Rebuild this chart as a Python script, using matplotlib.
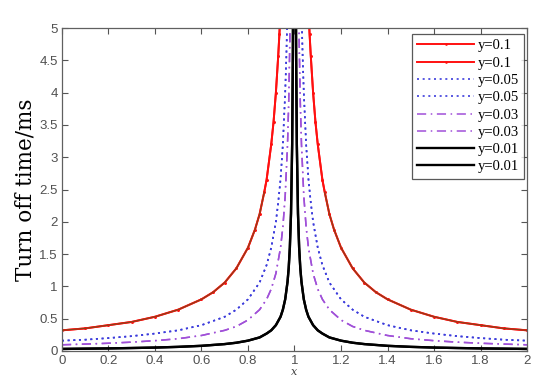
import matplotlib
matplotlib.use("Agg")
import matplotlib.pyplot as plt
import numpy as np

# x positions on the left half (mirrored about x=1 for the right half)
x_red = [0, 0.1, 0.2, 0.3, 0.4, 0.5, 0.6, 0.65, 0.7, 0.75, 0.8, 0.83, 0.85, 0.87, 0.88, 0.9, 0.91, 0.92, 0.93, 0.935, 0.94]
v_red = [0.32, 0.35, 0.40, 0.45, 0.53, 0.64, 0.80, 0.91, 1.06, 1.28, 1.60, 1.88, 2.12, 2.46, 2.65, 3.20, 3.55, 4.00, 4.57, 4.90, 5.30]

x_blue = [0, 0.1, 0.2, 0.3, 0.4, 0.5, 0.6, 0.7, 0.75, 0.8, 0.85, 0.88, 0.9, 0.92, 0.93, 0.94, 0.95, 0.96, 0.965, 0.97]
v_blue = [0.16, 0.175, 0.20, 0.23, 0.27, 0.32, 0.40, 0.53, 0.64, 0.80, 1.06, 1.33, 1.60, 2.00, 2.30, 2.66, 3.20, 4.00, 4.57, 5.30]

x_purp = [0, 0.1, 0.2, 0.3, 0.4, 0.5, 0.6, 0.7, 0.75, 0.8, 0.85, 0.88, 0.9, 0.92, 0.94, 0.95, 0.96, 0.97, 0.975, 0.98, 0.985]
v_purp = [0.096, 0.107, 0.12, 0.137, 0.16, 0.19, 0.24, 0.32, 0.38, 0.48, 0.64, 0.80, 0.96, 1.20, 1.60, 1.92, 2.40, 3.20, 3.84, 4.80, 6.40]

x_blk = [0, 0.1, 0.2, 0.3, 0.4, 0.5, 0.6, 0.7, 0.75, 0.8, 0.85, 0.88, 0.9, 0.92, 0.94, 0.95, 0.96, 0.97, 0.975, 0.98, 0.985, 0.99, 0.993, 0.995]
v_blk = [0.032, 0.036, 0.04, 0.046, 0.053, 0.064, 0.08, 0.107, 0.128, 0.16, 0.21, 0.27, 0.32, 0.40, 0.53, 0.64, 0.80, 1.07, 1.28, 1.60, 2.13, 3.20, 4.57, 6.40]

labels = ["y=0.1", "y=0.1", "y=0.05", "y=0.05", "y=0.03", "y=0.03", "y=0.01", "y=0.01"]
xticks = [0, 0.2, 0.4, 0.6, 0.8, 1, 1.2, 1.4, 1.6, 1.8, 2]
yticks = [0, 0.5, 1, 1.5, 2, 2.5, 3, 3.5, 4, 4.5, 5]


def halves(xs, vs):
    xs = np.asarray(xs, float)
    vs = np.asarray(vs, float)
    return xs, vs, (2 - xs)[::-1], vs[::-1]


fig = plt.figure(figsize=(5.5, 3.89), dpi=100)
ax = fig.add_axes([0.1127, 0.0977, 0.8455, 0.8303])

series = [
    (x_red, v_red, dict(color="#ff1010", lw=1.4, marker=".", ms=1.8, ls="-")),
    (x_blue, v_blue, dict(color="#3c3cdc", lw=1.2, ls=(0, (1.2, 2.2)))),
    (x_purp, v_purp, dict(color="#a050d8", lw=1.1, ls=(0, (6, 3, 1, 3)))),
    (x_blk, v_blk, dict(color="black", lw=1.7, ls="-")),
]

i = 0
for xs, vs, st in series:
    lx, lv, rx, rv = halves(xs, vs)
    for k in range(2):
        ax.plot(lx, lv, label=labels[i], **st)
        ax.plot(rx, rv, **st)
        i += 1

# darker core seen on the red curve's lower part
lx, lv, rx, rv = halves(x_red, v_red)
m = lv <= 2.5
ax.plot(lx[m], lv[m], color="#7a4a1a", lw=0.7, zorder=3)
m2 = rv <= 2.5
ax.plot(rx[m2], rv[m2], color="#7a4a1a", lw=0.7, zorder=3)

ax.set_xlim(0, 2)
ax.set_ylim(0, 5)
ax.set_xticks(xticks)
ax.set_xticklabels(["0", "0.2", "0.4", "0.6", "0.8", "1", "1.2", "1.4", "1.6", "1.8", "2"])
ax.set_yticks(yticks)
ax.set_yticklabels(["0", "0.5", "1", "1.5", "2", "2.5", "3", "3.5", "4", "4.5", "5"])
ax.tick_params(direction="in", top=True, right=True, length=4, width=0.8,
               colors="#555555", labelsize=9.5, pad=3)
for lab in ax.get_xticklabels() + ax.get_yticklabels():
    lab.set_family("Liberation Sans")
    lab.set_color("#505050")
for s in ax.spines.values():
    s.set_color("#606060")
    s.set_linewidth(0.9)

ax.set_ylabel("Turn off time/ms", family="DejaVu Serif", fontsize=15.5, labelpad=2)
ax.set_xlabel("x", family="DejaVu Serif", style="italic", fontsize=8, labelpad=0, color="#404040")

leg = ax.legend(loc="upper right", bbox_to_anchor=(0.994, 0.981), frameon=True,
                fancybox=False, edgecolor="#303030", prop={"family": "Liberation Serif", "size": 10.5},
                handlelength=3.9, handletextpad=0.25, labelspacing=0.28, borderpad=0.35,
                borderaxespad=0)
leg.get_frame().set_linewidth(0.9)

fig.savefig("out.png", dpi=100)
